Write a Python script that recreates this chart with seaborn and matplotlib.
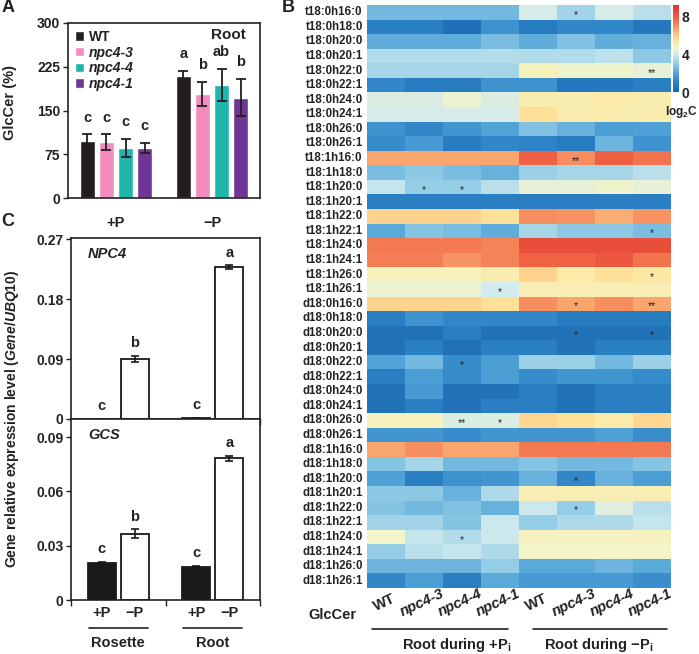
import numpy as np
import pandas as pd
import matplotlib
matplotlib.use("Agg")
import matplotlib.pyplot as plt
import matplotlib.transforms as mtransforms
from matplotlib.colors import LinearSegmentedColormap
from matplotlib.container import BarContainer
import seaborn as sns

# ---------------- data ----------------
genotypes = ["WT", "npc4-3", "npc4-4", "npc4-1"]
conditions = ["+P", "\u2212P"]
glccer_plusP = [98, 96, 86, 86]
glccer_plusP_sd = [11, 13, 16, 8]
glccer_minusP = [209, 178, 194, 172]
glccer_minusP_sd = [9, 21, 27, 32]
letters_plusP = ["c", "c", "c", "c"]
letters_minusP = ["a", "b", "ab", "b"]
geno_colors = ["#231f20", "#f28cbd", "#1fb5ad", "#6f3694"]

tissues = ["Rosette", "Root"]
treatments = ["+P", "\u2212P"]
npc4_plusP = [0.0005, 0.0015]
npc4_plusP_sd = [0.0002, 0.0004]
npc4_minusP = [0.090, 0.228]
npc4_minusP_sd = [0.005, 0.003]
npc4_letters_plusP = ["c", "c"]
npc4_letters_minusP = ["b", "a"]
gcs_plusP = [0.0205, 0.0185]
gcs_plusP_sd = [0.0005, 0.0005]
gcs_minusP = [0.0365, 0.0782]
gcs_minusP_sd = [0.0025, 0.0015]
gcs_letters_plusP = ["c", "c"]
gcs_letters_minusP = ["b", "a"]

species_suffix = ["16:0", "18:0", "20:0", "20:1", "22:0", "22:1", "24:0", "24:1", "26:0", "26:1"]
lcb_groups = ["t18:0h", "t18:1h", "d18:0h", "d18:1h"]
heat_columns = ["WT", "npc4-3", "npc4-4", "npc4-1", "WT ", "npc4-3 ", "npc4-4 ", "npc4-1 "]

t180h = [
    [2.5, 2.5, 2.5, 2.5, 4.1, 3.2, 4.1, 3.6],
    [1.0, 1.0, 0.4, 1.5, 0.8, 1.2, 1.2, 0.7],
    [2.2, 2.2, 2.2, 2.6, 2.2, 2.7, 2.2, 2.3],
    [3.5, 3.5, 3.5, 3.5, 3.5, 3.5, 3.7, 2.9],
    [3.3, 3.3, 3.3, 3.3, 4.9, 4.6, 4.6, 4.4],
    [1.2, 0.8, 0.8, 1.5, 1.5, 0.7, 0.7, 1.0],
    [4.2, 4.2, 4.5, 4.2, 5.1, 5.1, 5.2, 5.1],
    [4.1, 4.1, 4.1, 4.1, 5.5, 5.1, 5.1, 5.1],
    [1.5, 1.2, 1.6, 2.0, 2.7, 2.3, 1.8, 1.9],
    [1.3, 1.7, 0.9, 1.2, 1.1, 0.8, 2.4, 1.5],
]
t181h = [
    [6.6, 6.6, 6.6, 6.6, 7.9, 7.0, 7.9, 7.5],
    [2.6, 2.9, 2.6, 2.3, 3.1, 3.3, 3.3, 3.6],
    [3.8, 3.0, 3.0, 3.6, 4.4, 4.4, 4.6, 4.4],
    [1.0, 1.0, 1.0, 1.0, 1.0, 1.0, 1.0, 1.0],
    [5.8, 5.8, 5.8, 5.5, 7.0, 6.9, 6.5, 6.9],
    [2.1, 2.8, 2.6, 2.2, 3.3, 2.9, 2.9, 2.6],
    [7.4, 7.4, 7.4, 7.2, 8.4, 8.4, 8.4, 8.4],
    [7.3, 7.3, 6.9, 7.2, 7.8, 7.8, 8.1, 7.5],
    [4.9, 4.9, 4.9, 5.1, 5.8, 5.2, 5.5, 5.3],
    [4.5, 4.5, 4.5, 4.0, 5.0, 5.0, 5.0, 5.0],
]
d180h = [
    [5.8, 5.8, 5.8, 5.5, 7.0, 6.6, 7.0, 6.6],
    [1.0, 1.5, 1.2, 1.2, 1.2, 0.8, 0.8, 0.8],
    [0.5, 0.5, 1.0, 0.5, 0.5, 0.5, 0.5, 0.5],
    [0.5, 1.0, 0.5, 1.0, 1.0, 0.5, 1.0, 1.0],
    [2.0, 2.5, 1.3, 1.8, 3.1, 3.1, 2.5, 3.1],
    [1.0, 1.8, 1.3, 1.8, 1.3, 1.6, 1.6, 1.3],
    [0.5, 1.7, 0.5, 0.5, 1.0, 0.5, 1.0, 1.0],
    [0.5, 1.0, 0.5, 1.0, 1.0, 0.5, 1.0, 1.0],
    [4.8, 4.8, 4.2, 4.2, 5.7, 5.5, 5.2, 5.7],
    [1.6, 1.6, 1.3, 1.6, 1.6, 1.6, 1.9, 1.4],
]
d181h = [
    [6.6, 7.0, 6.6, 6.6, 7.4, 7.4, 7.4, 7.4],
    [2.8, 3.3, 2.5, 2.5, 2.8, 2.5, 2.5, 2.8],
    [1.9, 1.0, 1.5, 1.6, 2.3, 1.2, 2.3, 1.8],
    [2.9, 2.9, 2.3, 3.4, 5.0, 5.0, 5.0, 5.0],
    [2.8, 2.5, 2.7, 2.3, 3.9, 3.0, 4.3, 3.6],
    [3.2, 3.2, 2.8, 3.9, 3.0, 3.4, 3.4, 3.8],
    [4.7, 3.8, 3.5, 3.9, 4.8, 4.8, 4.8, 4.8],
    [3.0, 3.6, 3.8, 3.4, 4.7, 4.7, 4.7, 4.7],
    [2.4, 2.4, 2.4, 3.0, 2.1, 2.1, 2.4, 2.1],
    [1.2, 1.8, 1.0, 2.1, 1.7, 1.7, 1.7, 1.4],
]
significance = [
    ("t18:0h16:0", 5, "*"), ("t18:0h22:0", 7, "**"), ("t18:1h16:0", 5, "**"),
    ("t18:1h20:0", 1, "*"), ("t18:1h20:0", 2, "*"), ("t18:1h22:1", 7, "*"),
    ("t18:1h26:0", 7, "*"), ("t18:1h26:1", 3, "*"), ("d18:0h16:0", 5, "*"),
    ("d18:0h16:0", 7, "**"), ("d18:0h20:0", 5, "*"), ("d18:0h20:0", 7, "*"),
    ("d18:0h22:0", 2, "*"), ("d18:0h26:0", 2, "**"), ("d18:0h26:0", 3, "*"),
    ("d18:1h20:0", 5, "*"), ("d18:1h22:0", 5, "*"), ("d18:1h24:0", 2, "*"),
]

# ---------------- style ----------------
sns.set_theme(style="white")
plt.rcParams["font.family"] = ["Liberation Sans", "DejaVu Sans"]
plt.rcParams["font.weight"] = "bold"
plt.rcParams["axes.labelweight"] = "bold"
plt.rcParams["mathtext.fontset"] = "custom"
plt.rcParams["mathtext.rm"] = "Liberation Sans:bold"
plt.rcParams["mathtext.bf"] = "Liberation Sans:bold"
plt.rcParams["mathtext.it"] = "Liberation Sans:italic:bold"
plt.rcParams["axes.edgecolor"] = "#222222"
plt.rcParams["text.color"] = "#222222"
plt.rcParams["xtick.color"] = "#222222"
plt.rcParams["ytick.color"] = "#222222"

W, H = 699, 654
fig = plt.figure(figsize=(W / 100, H / 100), dpi=100)

def rect(l, t, r, b):
    return [l / W, 1 - b / H, (r - l) / W, (b - t) / H]

# ---------------- panel A ----------------
axA = fig.add_axes(rect(68, 23, 260, 198))
dfA = pd.DataFrame({
    "cond": [conditions[0]] * 4 + [conditions[1]] * 4,
    "geno": genotypes * 2,
    "val": glccer_plusP + glccer_minusP,
})
sns.barplot(data=dfA, x="cond", y="val", hue="geno", order=conditions,
            hue_order=genotypes, palette=geno_colors, width=0.8, gap=0.22,
            saturation=1, errorbar=None, ax=axA)
sds = [glccer_plusP_sd, glccer_minusP_sd]
means = [glccer_plusP, glccer_minusP]
lets = [letters_plusP, letters_minusP]
bar_conts = [c for c in axA.containers if isinstance(c, BarContainer)]
for gi, cont in enumerate(bar_conts):
    for ci, bar in enumerate(list(cont)):
        xc = bar.get_x() + bar.get_width() / 2
        m, s = means[ci][gi], sds[ci][gi]
        axA.errorbar(xc, m, yerr=s, fmt="none", ecolor="#231f20", elinewidth=1.3,
                     capsize=3.5, capthick=1.3)
        axA.annotate(lets[ci][gi], (xc, m + s), xytext=(0, 12), textcoords="offset points",
                     ha="center", va="center", fontsize=10.5, fontweight="bold")
axA.set_ylim(0, 300)
axA.set_yticks([0, 75, 150, 225, 300])
axA.set_xlim(-0.5, 1.5)
axA.set_xlabel("")
axA.set_ylabel("")
axA.tick_params(axis="y", direction="out", length=3.5, width=1, labelsize=10, pad=2, left=True)
axA.tick_params(axis="x", length=0, labelsize=10.5, pad=13)
for lab in axA.get_yticklabels() + axA.get_xticklabels():
    lab.set_fontweight("bold")
for sp in axA.spines.values():
    sp.set_linewidth(1.2)
handles, labels = axA.get_legend_handles_labels()
leg = axA.legend(handles, labels, loc="upper left", frameon=False, fontsize=10,
                 handlelength=0.65, handleheight=0.65, handletextpad=0.35,
                 labelspacing=0.12, borderaxespad=0.3, borderpad=0.2)
for t in leg.get_texts():
    t.set_fontweight("bold")
    if t.get_text() != "WT":
        t.set_fontstyle("italic")
fig.text(228 / W, 1 - 35 / H, "Root", ha="center", va="center", fontsize=11,
         fontweight="bold")
fig.text(10 / W, 1 - 102 / H, "GlcCer (%)", rotation=90, ha="center", va="center",
         fontsize=10.5, fontweight="bold")

# ---------------- panel C ----------------
def expr_panel(ax, plus, plus_sd, minus, minus_sd, lp, lm, ylim, yticks, yticklabels, gene):
    df = pd.DataFrame({
        "tissue": tissues * 2,
        "trt": [treatments[0]] * 2 + [treatments[1]] * 2,
        "val": plus + minus,
    })
    sns.barplot(data=df, x="tissue", y="val", hue="trt", order=tissues,
                hue_order=treatments, palette=["#1a1a1a", "white"], edgecolor="#1a1a1a",
                linewidth=1.3, width=0.7, gap=0.15, saturation=1, errorbar=None,
                legend=False, ax=ax)
    vals = [plus, minus]
    sdv = [plus_sd, minus_sd]
    letv = [lp, lm]
    conts = [c for c in ax.containers if isinstance(c, BarContainer)]
    for hi, cont in enumerate(conts):
        for ti, bar in enumerate(list(cont)):
            xc = bar.get_x() + bar.get_width() / 2
            m, s = vals[hi][ti], sdv[hi][ti]
            ax.errorbar(xc, m, yerr=s, fmt="none", ecolor="#1a1a1a", elinewidth=1.2,
                        capsize=3, capthick=1.2)
            ax.annotate(letv[hi][ti], (xc, m + s), xytext=(0, 9), textcoords="offset points",
                        ha="center", va="center", fontsize=10.5, fontweight="bold")
    ax.set_ylim(*ylim)
    ax.set_yticks(yticks)
    ax.set_yticklabels(yticklabels)
    ax.set_xlim(-0.5, 1.5)
    ax.set_xticks([-0.5, 0.5, 1.5])
    ax.set_xticklabels([])
    ax.set_xlabel("")
    ax.set_ylabel("")
    ax.tick_params(axis="y", direction="out", length=3.5, width=1, labelsize=10, pad=2, left=True)
    ax.tick_params(axis="x", direction="out", length=4, width=1, bottom=True)
    for lab in ax.get_yticklabels():
        lab.set_fontweight("bold")
    for sp in ax.spines.values():
        sp.set_linewidth(1.2)
    ax.text(0.09, 0.91, gene, transform=ax.transAxes, ha="left", va="center",
            fontsize=10.5, fontweight="bold", fontstyle="italic")

axC1 = fig.add_axes(rect(71, 238, 260, 419))
axC2 = fig.add_axes(rect(71, 419, 260, 600))
expr_panel(axC1, npc4_plusP, npc4_plusP_sd, npc4_minusP, npc4_minusP_sd,
           npc4_letters_plusP, npc4_letters_minusP, (0, 0.272), [0, 0.09, 0.18, 0.27],
           ["0", "0.09", "0.18", "0.27"], "NPC4")
expr_panel(axC2, gcs_plusP, gcs_plusP_sd, gcs_minusP, gcs_minusP_sd,
           gcs_letters_plusP, gcs_letters_minusP, (0, 0.1), [0, 0.03, 0.06, 0.09],
           ["0", "0.03", "0.06", "0.09"], "GCS")

trC = mtransforms.blended_transform_factory(axC2.transData, fig.transFigure)
for ti, tissue in enumerate(tissues):
    for hi, trt in enumerate(treatments):
        axC2.text(ti + (hi - 0.5) * 0.35, 1 - 613 / H, trt, transform=trC, ha="center",
                  va="center", fontsize=10.5, fontweight="bold")
    axC2.plot([ti - 0.31, ti + 0.31], [1 - 628 / H] * 2, transform=trC, color="#222222",
              lw=1.2, clip_on=False)
    axC2.text(ti, 1 - 643 / H, tissue, transform=trC, ha="center", va="center",
              fontsize=10.5, fontweight="bold")
fig.text(12 / W, 1 - 419 / H, r"Gene relative expression level ($\mathit{Gene/UBQ10}$)",
         rotation=90, ha="center", va="center", fontsize=10, fontweight="bold")

# ---------------- panel B ----------------
row_names = [g + s for g in lcb_groups for s in species_suffix]
heat = pd.DataFrame(t180h + t181h + d180h + d181h, index=row_names, columns=heat_columns)
cmap = LinearSegmentedColormap.from_list("lipid", [
    (0.0 / 9.2, "#1a66ae"), (1.0 / 9.2, "#2a80c4"), (2.0 / 9.2, "#53a5d8"),
    (3.0 / 9.2, "#95cde6"), (4.0 / 9.2, "#d2ebee"), (4.7 / 9.2, "#f3f4c6"),
    (5.4 / 9.2, "#fee69c"), (6.2 / 9.2, "#fcbf7e"), (7.0 / 9.2, "#f68e5f"),
    (7.8 / 9.2, "#ef6445"), (1.0, "#e1312b")])
axB = fig.add_axes(rect(367, 5, 671, 588))
cax = fig.add_axes(rect(673, 5, 679, 92))
sns.heatmap(heat, cmap=cmap, vmin=0, vmax=9.2, ax=axB, cbar_ax=cax,
            xticklabels=False, yticklabels=row_names, linewidths=0)
axB.tick_params(axis="y", length=0, pad=3, labelsize=8.3)
for lab in axB.get_yticklabels():
    lab.set_fontweight("bold")
    lab.set_rotation(0)
for name, col, mark in significance:
    r = row_names.index(name)
    axB.text(col + 0.5, r + 0.68, mark, ha="center", va="center", fontsize=7.5,
             color="#222222", fontweight="normal")
cax.set_yticks([0, 4, 8])
cax.tick_params(axis="y", length=0, labelsize=10, pad=2)
for lab in cax.get_yticklabels():
    lab.set_fontweight("bold")
fig.text(698 / W, 1 - 112 / H, r"log$_\mathrm{2}$C", ha="right", va="center",
         fontsize=8.5, fontweight="bold")

trB = mtransforms.blended_transform_factory(axB.transData, fig.transFigure)
for ci, name in enumerate(heat_columns):
    nm = name.strip()
    axB.text(ci + 0.45, 1 - 603 / H, nm, transform=trB, rotation=25, ha="center",
             va="center", fontsize=10.5, fontweight="bold",
             fontstyle="normal" if nm == "WT" else "italic")
axB.text(-0.92, 1 - 615 / H, "GlcCer", transform=trB, ha="center", va="center",
         fontsize=10.5, fontweight="bold")
axB.plot([0.13, 3.71], [1 - 629 / H] * 2, transform=trB, color="#222222", lw=1.2, clip_on=False)
axB.plot([4.37, 7.9], [1 - 629 / H] * 2, transform=trB, color="#222222", lw=1.2, clip_on=False)
axB.text(2.37, 1 - 645 / H, "Root during +P$_\\mathrm{i}$", transform=trB, ha="center",
         va="center", fontsize=10.5, fontweight="bold")
axB.text(6.1, 1 - 645 / H, "Root during \u2212P$_\\mathrm{i}$", transform=trB, ha="center",
         va="center", fontsize=10.5, fontweight="bold")

# panel letters
fig.text(8 / W, 1 - 8 / H, "A", ha="center", va="center", fontsize=13, fontweight="bold")
fig.text(288 / W, 1 - 8 / H, "B", ha="center", va="center", fontsize=13, fontweight="bold")
fig.text(8 / W, 1 - 222 / H, "C", ha="center", va="center", fontsize=13, fontweight="bold")

fig.savefig("out.png", dpi=100)
